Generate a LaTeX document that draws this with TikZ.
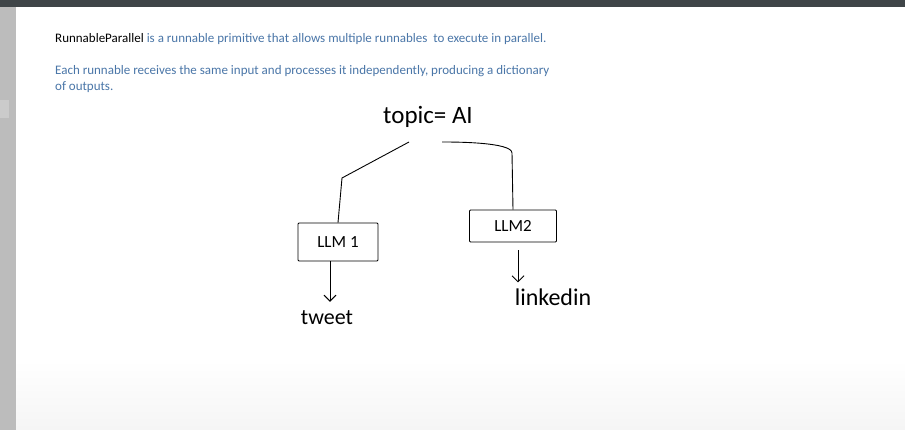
\documentclass[tikz,border=0pt]{standalone}
\usepackage{fontspec}
\setmainfont{Carlito}
\usetikzlibrary{arrows.meta}

\tikzset{
    noteText/.style={anchor=base west, inner sep=0pt, font=\fontsize{13}{15}\selectfont, text=noteBlue},
    handText/.style={inner sep=1pt, font=\fontsize{#1}{#1}\selectfont},
    handText/.default=18,
    llmBox/.style={draw, line width=0.9pt, minimum width=80pt, minimum height=38pt, rounded corners=1pt, font=\fontsize{17}{17}\selectfont},
    handLine/.style={line width=0.9pt},
    handArrow/.style={line width=0.9pt, -{Straight Barb[length=6pt,width=12pt]}}
}

\begin{document}
\begin{tikzpicture}[x=1pt, y=-1pt]
    \definecolor{noteBlue}{HTML}{4A76A8}
    \definecolor{barColour}{HTML}{3F4548}
    \definecolor{sideColour}{HTML}{BCBCBC}
    \definecolor{sideBox}{HTML}{CBCBCB}

    \useasboundingbox (0,0) rectangle (905,430);

    % Draw page
    \fill[white] (0,0) rectangle (905,430);
    \shade[top color=white, bottom color=black!4] (16,360) rectangle (905,430);
    \fill[sideColour] (0,7) rectangle (16,430);
    \fill[sideBox] (0,100) rectangle (9,118);
    \fill[barColour] (0,0) rectangle (905,7);

    % Write notes
    \node[noteText] (line1) at (55,43) {\textcolor{black}{RunnableParallel} is a runnable primitive that allows multiple runnables\ \ to execute in parallel.};
    \node[noteText] (line2) at (55,75) {Each runnable receives the same input and processes it independently, producing a dictionary};
    \node[noteText] (line3) at (55,91) {of outputs.};

    % Draw sketch nodes
    \node[handText=25] (topic) at (428,117) {topic= AI};
    \node[llmBox] (llmA) at (338,242) {LLM 1};
    \node[llmBox, minimum width=87pt, minimum height=32pt] (llmB) at (513,226) {LLM2};
    \node[handText=22] (tweet) at (327,318) {tweet};
    \node[handText=24] (linkedin) at (553,297) {linkedin};

    % Define bends of the branches
    \coordinate (topicL) at (409,142);
    \coordinate (bendL) at (342,178);
    \coordinate (topicR) at (442,142);
    \coordinate (bendR) at (512,153);

    % Draw branches
    \draw[handLine] (topicL) -- (bendL) -- (llmA.north);
    \draw[handLine] (topicR) to[out=0, in=90, looseness=0.4] (bendR) -- (llmB.north);

    % Draw outputs
    \draw[handArrow] ([xshift=-8pt]llmA.south) -- ([xshift=3pt, yshift=8pt]tweet.north);
    \draw[handArrow, shorten <=8pt] ([xshift=5pt]llmB.south) -- ([xshift=-35pt, yshift=5pt]linkedin.north);
\end{tikzpicture}
\end{document}
